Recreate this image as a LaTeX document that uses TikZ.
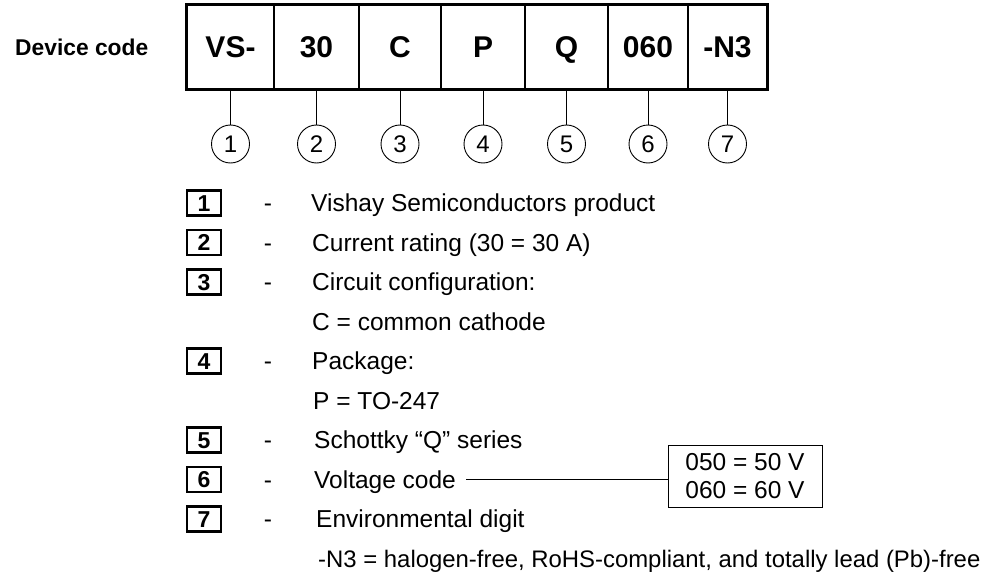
\documentclass[tikz,border=0pt]{standalone}
\usepackage{fontspec}
\setmainfont{Liberation Sans}
\begin{document}
\begin{tikzpicture}[x=1pt,y=-1pt,
  cell/.style={draw,line width=1.2pt,minimum height=84pt,inner sep=0pt,text height=21.5pt,text depth=0pt,font=\fontsize{30}{36}\selectfont\bfseries},
  num/.style={draw,circle,line width=0.9pt,minimum size=38pt,inner sep=0pt,text height=17pt,text depth=0pt,font=\fontsize{24}{28}\selectfont},
  lbox/.style={draw,line width=2.2pt,minimum width=34pt,minimum height=25pt,inner sep=0pt,text height=16.5pt,text depth=0pt,font=\fontsize{23}{27}\selectfont\bfseries},
  txt/.style={anchor=base west,inner sep=0pt,font=\fontsize{24.5}{29}\selectfont},
  dsh/.style={anchor=base,inner sep=0pt,font=\fontsize{24.5}{29}\selectfont},
  conn/.style={line width=0.9pt}]
\useasboundingbox (0,0) rectangle (987,575);
\node[anchor=west,inner sep=0pt,font=\fontsize{22.8}{27}\selectfont\bfseries] (dc) at (15,47) {Device code};
\node[cell,minimum width=87pt] (c1) at (230.5,47) {VS-};
\node[cell,minimum width=85pt] (c2) at (316.5,47) {30};
\node[cell,minimum width=82pt] (c3) at (400,47) {C};
\node[cell,minimum width=84pt] (c4) at (483,47) {P};
\node[cell,minimum width=83pt] (c5) at (566.5,47) {Q};
\node[cell,minimum width=80pt] (c6) at (648,47) {060};
\node[cell,minimum width=79pt] (c7) at (727.5,47) {-N3};
\draw[line width=2.4pt] (c1.north west) rectangle (c7.south east);
\foreach \i/\x in {1/230.5,2/316.5,3/400,4/483,5/566.5,6/648,7/727.5}{
  \node[num] (n\i) at (\x,144) {\i};
  \draw[conn] (c\i.south) -- (n\i.north);
}
% legend
\foreach \i/\y in {1/203,2/242.5,3/282,4/361,5/440,6/479.5,7/519}{
  \node[lbox] (b\i) at (204,\y) {\i};
  \node[dsh] (d\i) at (268,\y+8.8) {-};
}
\node[txt] (t1) at (311,203+8.8) {Vishay Semiconductors product};
\node[txt] (t2) at (312,242.5+8.8) {Current rating (30 = 30 A)};
\node[txt] (t3) at (312,282+8.8) {Circuit configuration:};
\node[txt] (t3b) at (312,321.5+8.8) {C = common cathode};
\node[txt] (t4) at (312,361+8.8) {Package:};
\node[txt] (t4b) at (313,400.5+8.8) {P = TO-247};
\node[txt] (t5) at (314,440+8.8) {Schottky “Q” series};
\node[txt] (t6) at (314,479.5+8.8) {Voltage code};
\node[txt] (t7) at (316,519+8.8) {Environmental digit};
\node[txt,font=\fontsize{23.9}{28}\selectfont] (t7b) at (318,558.5+8.6) {-N3 = halogen-free, RoHS-compliant, and totally lead (Pb)-free};
\node[draw,line width=0.9pt,minimum width=154pt,minimum height=62pt,inner sep=0pt,align=left,font=\fontsize{24.5}{28}\selectfont] (vb) at (745,476) {050 = 50 V\\060 = 60 V};
\draw[conn] ([xshift=10pt,yshift=0pt]t6.east |- 0,479.5) coordinate (vs) -- (vb.west |- vs);
\end{tikzpicture}
\end{document}
